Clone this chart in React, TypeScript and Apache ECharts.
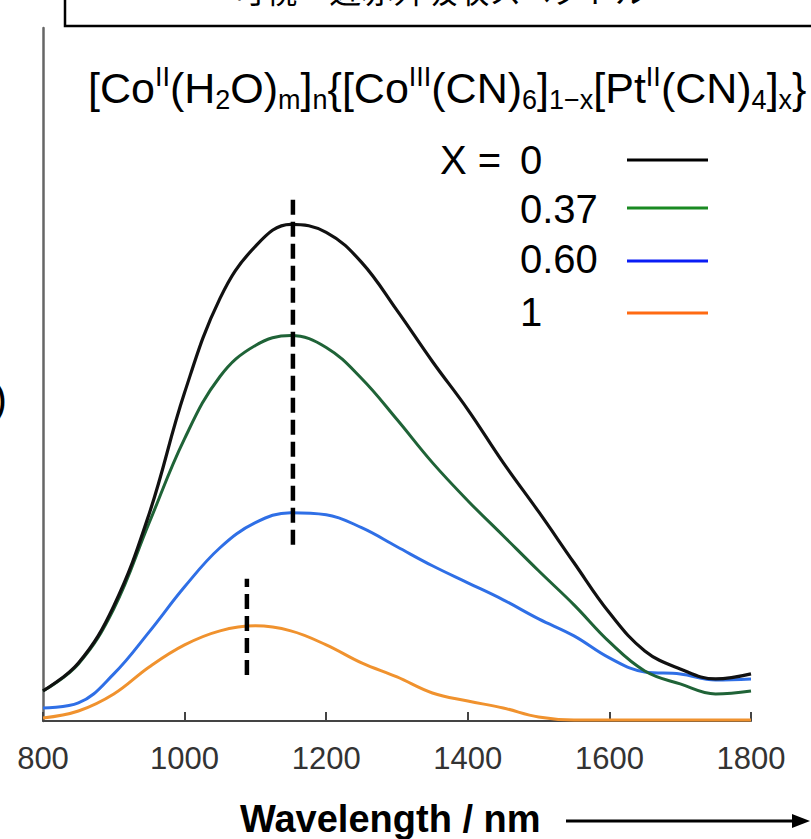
import React, { useEffect, useRef } from "react";
import * as echarts from "echarts";

// wavelength grid (nm) on which the spectra were read
const wavelengths = [800, 850, 900, 950, 1000, 1050, 1100, 1150, 1200, 1250, 1300, 1350, 1400, 1450, 1500, 1550, 1600, 1650, 1700, 1750, 1800];
// X = 0
const absBlack = [30, 58, 115, 207, 328, 422, 474, 496, 488, 458, 410, 359, 311, 258, 209, 158, 108, 70, 52, 42, 47];
// X = 0.37
const absGreen = [30, 57, 112, 198, 282, 344, 375, 385, 373, 342, 301, 258, 220, 185, 150, 116, 79, 50, 37, 27, 30];
// X = 0.60
const absBlue = [13, 18, 47, 89, 134, 173, 198, 208, 206, 193, 174, 155, 138, 121, 102, 85, 63, 49, 47, 41, 42];
// X = 1
const absOrange = [3, 10, 27, 54, 76, 90, 95, 90, 76, 58, 44, 28, 20, 13, 4, 1, 1, 1, 1, 1, 1];

// peak markers: [wavelength, from, to]
const peakMarkA = [1153, 176, 521];
const peakMarkB = [1088, 46, 142];

const legendLabels = ["0", "0.37", "0.60", "1"];
const legendColors = ["#000000", "#1a8a22", "#0a1df5", "#ff6a12"];
const curveColors = ["#111111", "#1f6337", "#2f6fe6", "#f0922e"];
const xTicks = [800, 1000, 1200, 1400, 1600, 1800];

const zip = (xs: number[], ys: number[]) => xs.map((x, i) => [x, ys[i]]);

export default function App() {
  const ref = useRef<HTMLDivElement>(null);
  useEffect(() => {
    if (!ref.current) return;
    const chart = echarts.init(ref.current, undefined, { renderer: "svg" });
    const font = "'Liberation Sans', Arial, sans-serif";
    const curves = [
      zip(wavelengths, absBlack),
      zip(wavelengths, absGreen),
      zip(wavelengths, absBlue),
      zip(wavelengths, absOrange),
    ];
    const lineSeries = curves.map((d, i) => ({
      type: "line",
      data: d,
      showSymbol: false,
      smooth: 0.4,
      lineStyle: { color: curveColors[i], width: i === 0 ? 3.2 : 3 },
      z: 3 - i + 2,
    }));
    const dashSeries = [peakMarkA, peakMarkB].map((p) => ({
      type: "line",
      data: [
        [p[0], p[1]],
        [p[0], p[2]],
      ],
      showSymbol: false,
      lineStyle: { color: "#000", width: 4.5, type: [15, 7] },
      z: 10,
    }));

    const legendY = [160, 209, 259, 312];
    const legendLineY = [160, 208, 261, 313];
    const graphics: any[] = [
      {
        type: "rect",
        shape: { x: 65, y: -20, width: 770, height: 46 },
        style: { fill: "none", stroke: "#000", lineWidth: 2.5 },
      },
      {
        type: "text",
        x: 440,
        y: 5,
        style: {
          text: "可視・近赤外吸収スペクトル",
          fontSize: 32,
          fontFamily: "'Noto Sans CJK JP', sans-serif",
          fill: "#000",
          align: "center",
          verticalAlign: "bottom",
        },
      },
      {
        type: "text",
        x: 88,
        y: 88,
        style: {
          text:
            "{m|[Co}{sup|II}{m|(H}{sub|2}{m|O)}{sub|m}{m|]}{sub|n}{m|{[Co}{sup|III}{m|(CN)}{sub|6}{m|]}{sub|1−x}{m|[Pt}{sup|II}{m|(CN)}{sub|4}{m|]}{sub|x}}",
          fontSize: 43,
          fontFamily: font,
          fill: "#000",
          align: "left",
          verticalAlign: "middle",
          rich: {
            m: { fontSize: 43, fontFamily: font, lineHeight: 50, verticalAlign: "middle", fill: "#000" },
            sup: { fontSize: 27, fontFamily: font, lineHeight: 36, verticalAlign: "top", fill: "#000" },
            sub: { fontSize: 27, fontFamily: font, lineHeight: 20, verticalAlign: "bottom", fill: "#000" },
          },
        },
      },
      {
        type: "text",
        x: 440,
        y: legendY[0],
        style: { text: "X =", fontSize: 40, fontFamily: font, fill: "#000", align: "left", verticalAlign: "middle" },
      },
      {
        type: "text",
        x: -7,
        y: 398,
        style: { text: ")", fontSize: 42, fontFamily: font, fill: "#000", align: "left", verticalAlign: "middle" },
      },
      {
        type: "text",
        x: 240,
        y: 819,
        style: {
          text: "Wavelength / nm",
          fontSize: 38,
          fontWeight: "bold",
          fontFamily: font,
          fill: "#000",
          align: "left",
          verticalAlign: "middle",
        },
      },
      {
        type: "line",
        shape: { x1: 566, y1: 821, x2: 796, y2: 821 },
        style: { stroke: "#000", lineWidth: 3 },
      },
      {
        type: "polygon",
        shape: { points: [[792, 814], [810, 821], [792, 828]] },
        style: { fill: "#000" },
      },
    ];
    legendLabels.forEach((lab, i) => {
      graphics.push({
        type: "text",
        x: 520,
        y: legendY[i],
        style: { text: lab, fontSize: 40, fontFamily: font, fill: "#000", align: "left", verticalAlign: "middle" },
      });
      graphics.push({
        type: "line",
        shape: { x1: 627, y1: legendLineY[i], x2: 708, y2: legendLineY[i] },
        style: { stroke: legendColors[i], lineWidth: 3 },
      });
    });

    chart.setOption({
      animation: false,
      backgroundColor: "#ffffff",
      grid: { left: 43, right: 60, top: 28, bottom: 118, containLabel: false },
      xAxis: {
        type: "value",
        min: xTicks[0],
        max: xTicks[xTicks.length - 1],
        interval: 200,
        axisLine: { lineStyle: { color: "#444", width: 2 } },
        axisTick: { inside: true, length: 9, lineStyle: { color: "#444", width: 2 } },
        axisLabel: {
          fontSize: 31,
          color: "#333",
          margin: 22,
          fontFamily: font,
          formatter: (v: number) => String(v),
        },
        splitLine: { show: false },
      },
      yAxis: {
        type: "value",
        min: 0,
        max: 692,
        axisLine: { show: true, lineStyle: { color: "#666", width: 2.5 } },
        axisTick: { show: false },
        axisLabel: { show: false },
        splitLine: { show: false },
      },
      series: [...lineSeries, ...dashSeries],
      graphic: graphics,
    });
    return () => chart.dispose();
  }, []);
  return <div ref={ref} style={{ width: 811, height: 839, position: "absolute", left: 0, top: 0 }} />;
}
